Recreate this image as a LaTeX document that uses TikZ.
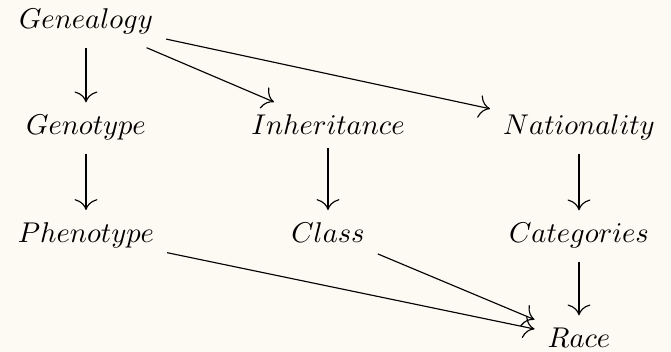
\documentclass[tikz,border=0pt]{standalone}
\usetikzlibrary{arrows.meta}
\definecolor{bgcream}{HTML}{FDFAF3}
\begin{document}
\begin{tikzpicture}[x=0.35pt,y=-0.35pt,
  obj/.style={inner sep=4.4pt, anchor=base, font=\fontsize{10}{12}\selectfont},
  arr/.style={-{To[length=3.8pt,width=8pt]}, line width=0.4pt, black}]
\fill[bgcream] (0,0) rectangle (671,352);
\useasboundingbox (0,0) rectangle (671,352);
\node[obj] (gen) at (86,29) {$Genealogy$};
\node[obj] (gty) at (86,135) {$Genotype$};
\node[obj] (inh) at (328,135) {$Inheritance$};
\node[obj] (nat) at (579,135) {$Nationality$};
\node[obj] (phe) at (86,243) {$Phenotype$};
\node[obj] (cls) at (328,243) {$Class$};
\node[obj] (cat) at (579,243) {$Categories$};
\node[obj] (race) at (579,348) {$Race$};
\draw[arr] (gen) -- (gty);
\draw[arr] (gen) -- (inh);
\draw[arr] (gen) -- (nat);
\draw[arr] (gty) -- (phe);
\draw[arr] (inh) -- (cls);
\draw[arr] (nat) -- (cat);
\draw[arr] (cat) -- (race);
\draw[arr] (phe) -- (race);
\draw[arr] (cls) -- (race);
\end{tikzpicture}
\end{document}
